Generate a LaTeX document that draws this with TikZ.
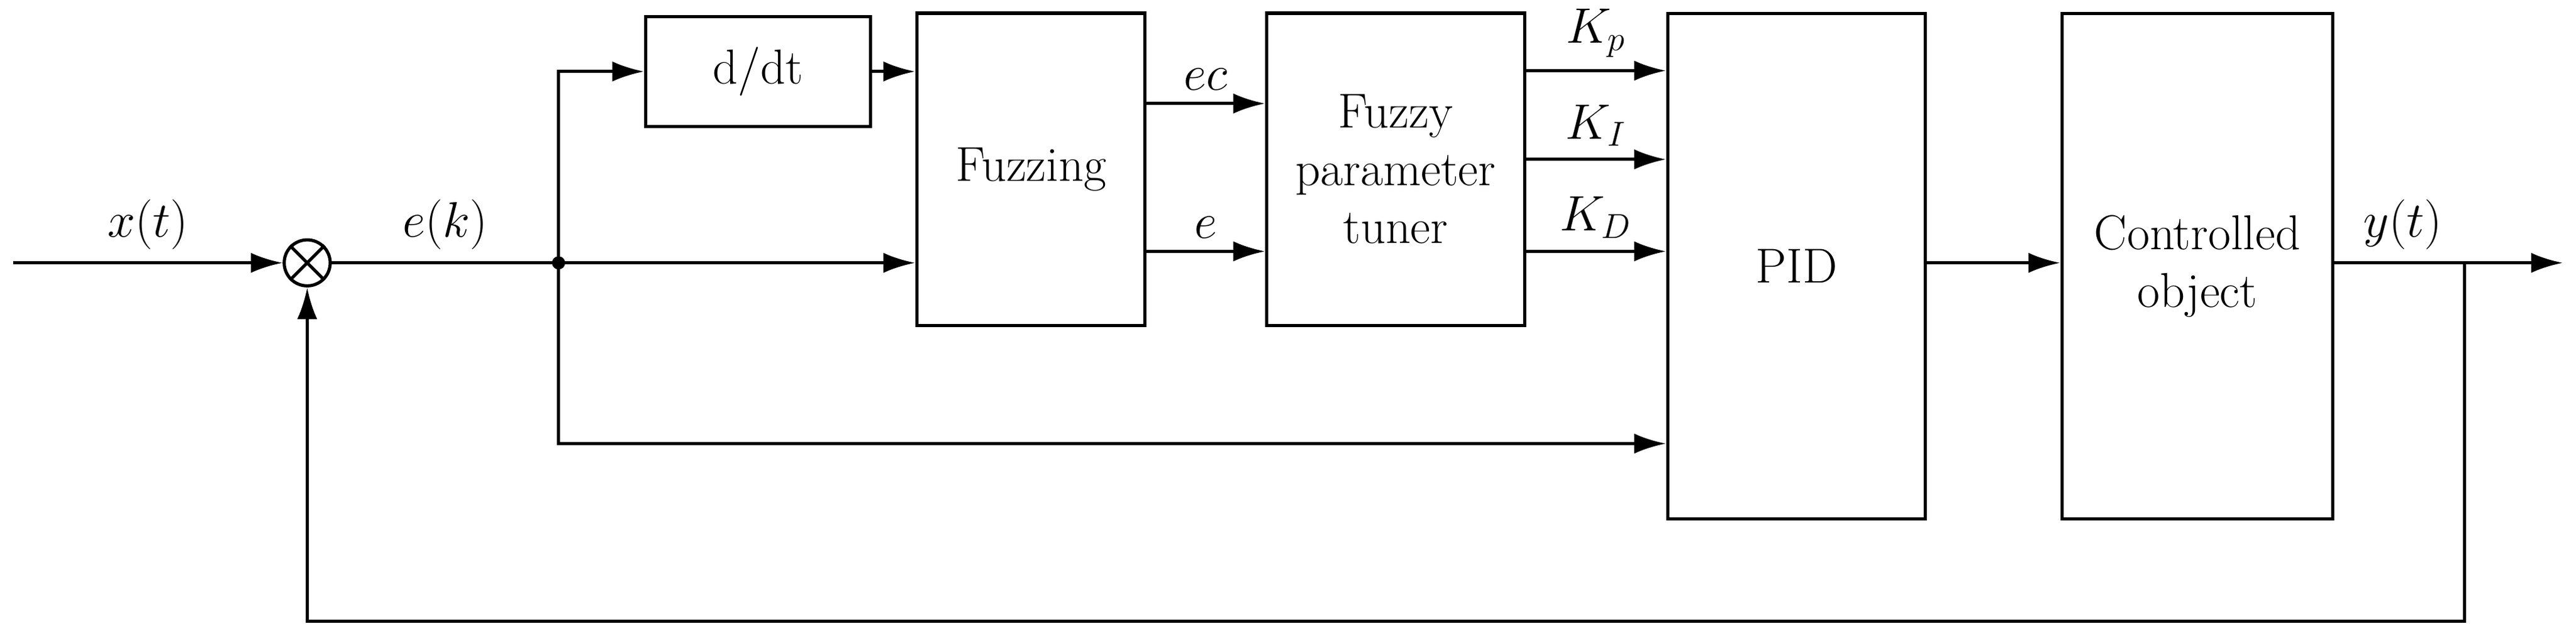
\documentclass[tikz,border=0pt]{standalone}
\usetikzlibrary{arrows.meta}
\begin{document}
\begin{tikzpicture}[x=0.02cm,y=-0.02cm,
  font=\fontsize{17}{20}\selectfont,
  line width=1.1pt,
  box/.style={draw,line width=1.1pt,align=center,inner sep=0pt},
  sig/.style={-{Latex[length=11pt,width=7pt]}},
  lab/.style={above,inner sep=4pt}]
\useasboundingbox (0,0) rectangle (1568,387);
% blocks
\node[box,minimum width=2.74cm,minimum height=1.34cm] (ddt) at (461.5,43.5) {d/dt};
\node[box,minimum width=2.78cm,minimum height=3.8cm] (fuz) at (627.5,103) {Fuzzing};
\node[box,minimum width=3.14cm,minimum height=3.8cm] (tun) at (849.5,103) {Fuzzy\\parameter\\tuner};
\node[box,minimum width=3.14cm,minimum height=6.16cm] (pid) at (1093.5,162) {PID};
\node[box,minimum width=3.3cm,minimum height=6.16cm] (obj) at (1337.5,162) {Controlled\\object};
\node[draw,circle,minimum size=0.56cm,inner sep=0pt,line width=1.1pt] (sum) at (187,160) {};
\draw (sum.north west) -- (sum.south east) (sum.north east) -- (sum.south west);
% points
\coordinate (in) at (8,160);
\coordinate (j) at (340,160);
\coordinate (out) at (1560,160);
\coordinate (fb) at (1500,160);
\fill (j) circle (4);
% forward path
\draw[sig] (in) -- node[lab]{$x(t)$} (sum);
\draw (sum) -- node[lab]{$e(k)$} (j);
\draw[sig] (j) -- (j -| fuz.west);
\draw[sig] (j) |- (ddt.west);
\draw[sig] (ddt.east) -- (ddt.east -| fuz.west);
\draw[sig] (fuz.east |- 0,63) -- node[lab]{$ec$} (tun.west |- 0,63);
\draw[sig] (fuz.east |- 0,153) -- node[lab]{$e$} (tun.west |- 0,153);
\draw[sig] (tun.east |- 0,43) -- node[lab]{$K_p$} (pid.west |- 0,43);
\draw[sig] (tun.east |- 0,97) -- node[lab]{$K_I$} (pid.west |- 0,97);
\draw[sig] (tun.east |- 0,153) -- node[lab]{$K_D$} (pid.west |- 0,153);
\draw[sig] (j) |- (pid.west |- 0,270);
\draw[sig] (pid.east |- 0,160) -- (obj.west |- 0,160);
\draw[sig] (obj.east |- 0,160) -- node[lab,pos=0.3]{$y(t)$} (out);
% feedback
\draw[sig] (fb) -- (1500,378) -| (sum.south);
\end{tikzpicture}
\end{document}
